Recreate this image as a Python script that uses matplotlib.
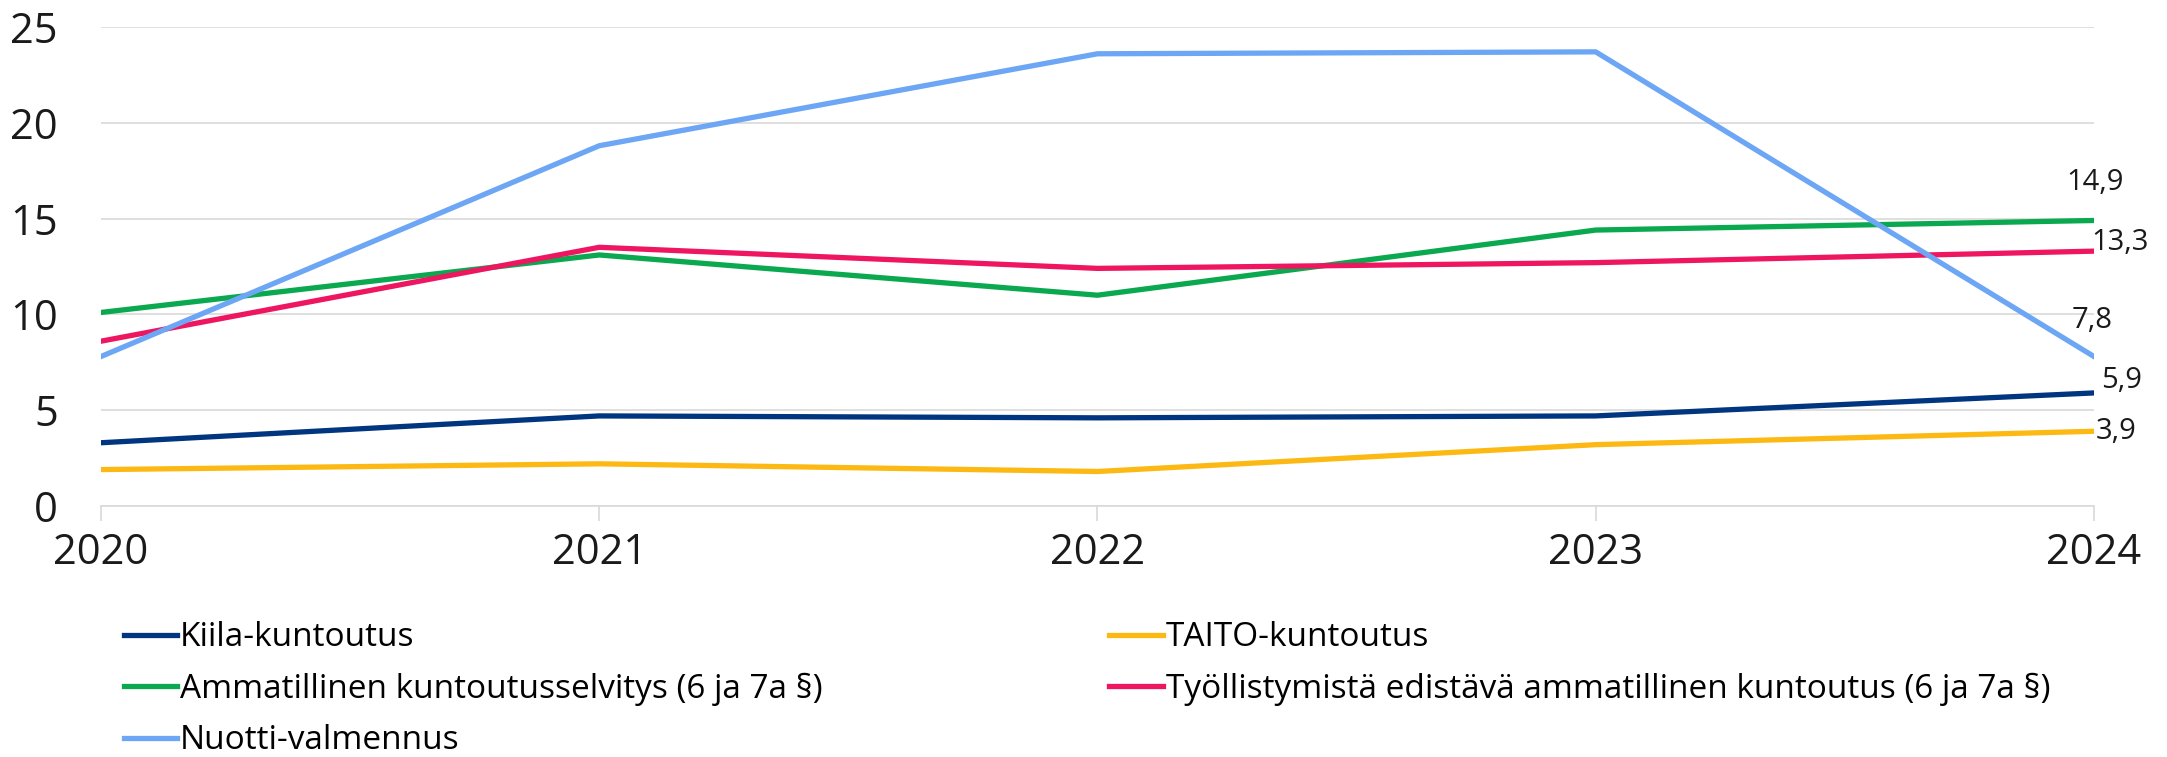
import matplotlib.pyplot as plt

years = [2020, 2021, 2022, 2023, 2024]
kiila = [3.3, 4.7, 4.6, 4.7, 5.9]
taito = [1.9, 2.2, 1.8, 3.2, 3.9]
ammatillinen = [10.1, 13.1, 11.0, 14.4, 14.9]
tyollistymista = [8.6, 13.5, 12.4, 12.7, 13.3]
nuotti = [7.8, 18.8, 23.6, 23.7, 7.8]

plt.rcParams['font.family'] = ['Open Sans', 'DejaVu Sans']

fig = plt.figure(figsize=(21.67, 7.57), dpi=100)
ax = fig.add_axes([0.0466, 0.3316, 0.9197, 0.6328])

lw = 3.8
l_kiila, = ax.plot(years, kiila, color='#003580', lw=lw, label='Kiila-kuntoutus')
l_amm, = ax.plot(years, ammatillinen, color='#0AA84F', lw=lw,
                 label='Ammatillinen kuntoutusselvitys (6 ja 7a §)')
l_nuotti, = ax.plot(years, nuotti, color='#6CA6F5', lw=lw, label='Nuotti-valmennus')
l_taito, = ax.plot(years, taito, color='#FDB913', lw=lw, label='TAITO-kuntoutus')
l_tyo, = ax.plot(years, tyollistymista, color='#EE1660', lw=lw,
                 label='Työllistymistä edistävä ammatillinen kuntoutus (6 ja 7a §)')
# nuotti drawn on top like the original
l_nuotti.set_zorder(3)

# end value labels
def last_label(vals, dx, dy):
    txt = f'{vals[-1]:.1f}'.replace('.', ',')
    ax.annotate(txt, (years[-1], vals[-1]), xytext=(dx, dy), textcoords='offset points',
                ha='center', va='center', fontsize=21, color='#1a1a1a', annotation_clip=False)

last_label(ammatillinen, 1, 27)
last_label(tyollistymista, 19, 6.5)
last_label(nuotti, -1, 26)
last_label(kiila, 20, 9)
last_label(taito, 16, 0)

ax.set_xlim(2020, 2024)
ax.set_ylim(0, 25)
ax.set_xticks(years)
ax.set_xticklabels([str(y) for y in years])
ax.set_yticks([0, 5, 10, 15, 20, 25])

ax.grid(axis='y', color='#D9D9D9', lw=1.2)
ax.set_axisbelow(True)
for s in ['top', 'right', 'left']:
    ax.spines[s].set_visible(False)
ax.spines['bottom'].set_color('#D9D9D9')
ax.spines['bottom'].set_linewidth(1.2)

ax.tick_params(axis='y', length=0, pad=31, labelsize=30, labelcolor='#1a1a1a')
ax.tick_params(axis='x', length=11, width=1.2, color='#D9D9D9', pad=8,
               labelsize=30, labelcolor='#1a1a1a')

fig.legend(handles=[l_kiila, l_amm, l_nuotti, l_taito, l_tyo], ncol=2,
           loc='upper left', bbox_to_anchor=(0.057, 0.179), frameon=False,
           fontsize=24, handlelength=1.6, handletextpad=0.1, labelspacing=0.55,
           columnspacing=8.6, borderaxespad=0, borderpad=0)

fig.savefig('out.png', dpi=100)
